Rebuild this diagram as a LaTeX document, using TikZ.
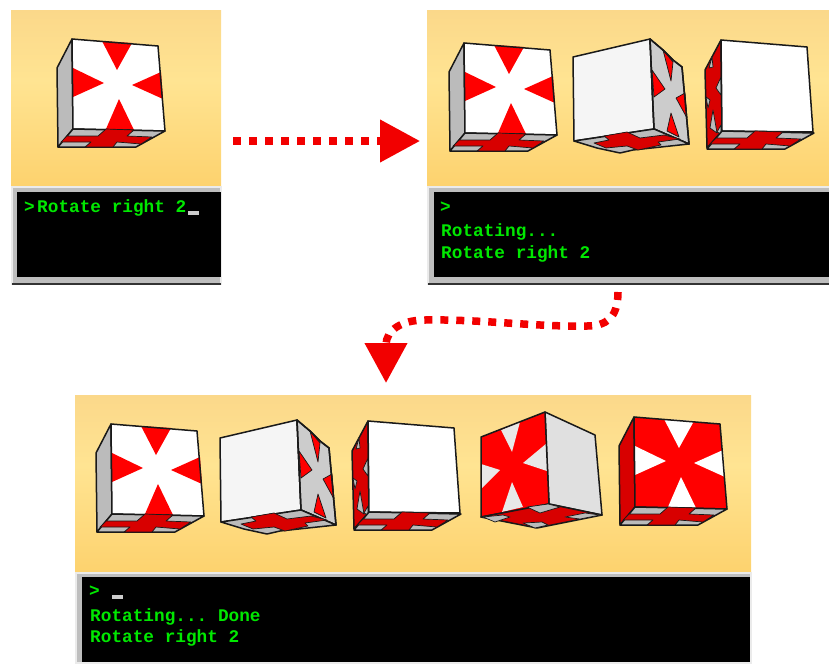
\documentclass[tikz,border=0pt]{standalone}
\usepackage{fontspec}
\setmonofont{Liberation Mono}
\usetikzlibrary{arrows.meta,calc}
\definecolor{scenetop}{HTML}{FBD88A}
\definecolor{scenemid}{HTML}{FFE492}
\definecolor{scenelow}{HTML}{FDD26E}
\definecolor{sidegray}{HTML}{BBBBBB}
\definecolor{palegray}{HTML}{CCCCCC}
\definecolor{darkred}{HTML}{D80000}
\definecolor{framegray}{HTML}{BEBEBE}
\definecolor{consolegreen}{HTML}{00E800}
\pgfdeclareverticalshading{scenefade}{100bp}{color(0bp)=(scenelow); color(25bp)=(scenelow); color(55bp)=(scenemid); color(75bp)=(scenetop); color(100bp)=(scenetop)}
\tikzset{
  scenepanel/.style={rectangle, anchor=north west, inner sep=0pt, outer sep=0pt, shading=scenefade},
  framepanel/.style={rectangle, anchor=north west, inner sep=0pt, outer sep=0pt, fill=framegray, draw=white!92!black, line width=1.5pt},
  screenpanel/.style={rectangle, anchor=north west, inner sep=0pt, outer sep=0pt, fill=black},
  consoletext/.style={anchor=base west, inner sep=0pt, text=consolegreen, font=\fontsize{17.75}{20}\selectfont\ttfamily\bfseries},
  promptmark/.style={anchor=base west, inner sep=0pt, text=consolegreen, font=\fontsize{17.75}{20}\selectfont\ttfamily\bfseries},
  cursormark/.style={fill=white!80!black, draw=none},
  cubeline/.style={draw=black!90, line width=1.5pt, line join=round},
  crossline/.style={draw=black!90, line width=.7pt, line join=round},
  dotarrow/.style={-{Triangle[length=40pt,width=41pt]}, draw=red!95!black, line width=7.5pt, dash pattern=on 8pt off 8pt}
}
% bottom face seen from below, used by the square looking cubes
\newcommand{\cubebase}[1]{
  \begin{scope}[shift={#1}]
    \filldraw[cubeline, fill=sidegray] (73,129) -- (165,131) -- (136,147) -- (58,147) -- cycle;
    \filldraw[crossline, fill=darkred] (106,129) -- (134,130) -- (127,136) -- (152,137) -- (141,144) -- (117,142) -- (113,147) -- (85,147) -- (91,142) -- (61,142) -- (67,136) -- (98,136) -- cycle;
  \end{scope}
}
\newcommand{\frontcube}[4]{
  \begin{scope}[shift={#1}]
    \filldraw[cubeline, fill=#4] (72,39) -- (57,68) -- (58,147) -- (73,129) -- cycle;
    \fill[#2] (72,39) -- (158,46) -- (165,131) -- (73,129) -- cycle;
    \fill[#3] (102,41) -- (132,43) -- (117,70) -- cycle;
    \fill[#3] (73,68) -- (104,83) -- (73,97) -- cycle;
    \fill[#3] (161,72) -- (132,85) -- (163,99) -- cycle;
    \fill[#3] (119,99) -- (106,129) -- (134,130) -- cycle;
    \draw[cubeline] (72,39) -- (158,46) -- (165,131) -- (73,129) -- cycle;
  \end{scope}
  \cubebase{#1}
}
\newcommand{\turnedcube}[1]{
  \begin{scope}[shift={#1}]
    \filldraw[cubeline, fill=white!96!black] (573,57) -- (650,39) -- (654,129) -- (574,141) -- cycle;
    \filldraw[cubeline, fill=palegray] (650,39) -- (663,50) -- (673,60) -- (682,67) -- (689,144) -- (654,129) -- cycle;
    \filldraw[crossline, fill=red] (663,50) -- (673,62) -- (671,81) -- cycle;
    \filldraw[crossline, fill=red] (652,70) -- (665,89) -- (654,97) -- cycle;
    \filldraw[crossline, fill=red] (685,93) -- (676,98) -- (687,118) -- cycle;
    \filldraw[crossline, fill=red] (671,113) -- (667,131) -- (679,137) -- cycle;
    \draw[cubeline] (650,39) -- (663,50) -- (673,60) -- (682,67) -- (689,144) -- (654,129) -- cycle;
    \filldraw[cubeline, fill=sidegray] (574,141) -- (654,129) -- (689,144) -- (633,150) -- (620,153) -- (597,148) -- cycle;
    \filldraw[crossline, fill=darkred] (604,136) -- (627,132) -- (640,138) -- (664,135) -- (680,139) -- (658,142) -- (661,145) -- (638,150) -- (627,146) -- (606,148) -- (594,143) -- (609,140) -- cycle;
  \end{scope}
}
\newcommand{\sidecube}[1]{
  \begin{scope}[shift={#1}]
    \filldraw[cubeline, fill=darkred] (721,40) -- (705,70) -- (707,148) -- (722,131) -- cycle;
    \filldraw[crossline, fill=sidegray] (712,57) -- (709,68) -- (713,67) -- cycle;
    \filldraw[crossline, fill=sidegray] (721,77) -- (716,88) -- (721,95) -- cycle;
    \filldraw[crossline, fill=sidegray] (706,97) -- (710,100) -- (708,108) -- cycle;
    \filldraw[crossline, fill=sidegray] (713,110) -- (710,128) -- (717,133) -- cycle;
    \filldraw[crossline, fill=sidegray] (721,125) -- (717,132) -- (721,134) -- cycle;
    \filldraw[cubeline, fill=white] (721,40) -- (807,47) -- (813,132) -- (722,131) -- cycle;
  \end{scope}
  \cubebase{($#1+(649,2)$)}
}
\newcommand{\leaningcube}[1]{
  \begin{scope}[shift={#1}]
    \filldraw[cubeline, fill=white!88!black] (545,412) -- (595,435) -- (602,515) -- (549,504) -- cycle;
    \fill[red] (481,437) -- (545,412) -- (549,504) -- (481,517) -- cycle;
    \fill[white!91!black] (501,430) -- (520,422) -- (512,452) -- cycle;
    \fill[white!91!black] (547,443) -- (523,463) -- (547,471) -- cycle;
    \fill[white!91!black] (481,464) -- (500,470) -- (481,489) -- cycle;
    \fill[white!91!black] (512,482) -- (502,512) -- (523,507) -- cycle;
    \draw[cubeline] (481,437) -- (545,412) -- (549,504) -- (481,517) -- cycle;
    \filldraw[cubeline, fill=darkred] (481,517) -- (549,504) -- (602,515) -- (537,528) -- cycle;
    \filldraw[crossline, fill=sidegray] (527,507) -- (548,504) -- (560,507) -- (540,513) -- cycle;
    \filldraw[crossline, fill=sidegray] (483,517) -- (503,515) -- (510,517) -- (495,522) -- cycle;
    \filldraw[crossline, fill=sidegray] (565,517) -- (585,513) -- (600,515) -- (580,519) -- cycle;
    \filldraw[crossline, fill=sidegray] (523,523) -- (542,522) -- (548,525) -- (535,528) -- cycle;
  \end{scope}
}

\begin{document}
\begin{tikzpicture}[x=1pt, y=-1pt]
\useasboundingbox (0,0) rectangle (829,664);
% first state
\node[scenepanel, minimum width=210pt, minimum height=176pt] (scene1) at (11,10) {};
\node[framepanel, minimum width=209pt, minimum height=97pt] (console1) at (12,187) {};
\node[screenpanel, minimum width=204pt, minimum height=85pt] (screen1) at (17,192) {};
\draw[black!80, line width=1.5pt] (console1.south west) -- (console1.south east);
\frontcube{(0,0)}{white}{red}{sidegray}
\node[promptmark] (prompt1) at (24,212) {>};
\node[consoletext] (command1) at (37,212) {Rotate right 2};
\fill[cursormark] (188,211) rectangle (199,215);
% second state
\node[scenepanel, minimum width=402pt, minimum height=176pt] (scene2) at (427,10) {};
\node[framepanel, minimum width=402pt, minimum height=97pt] (console2) at (428,187) {};
\node[screenpanel, minimum width=395pt, minimum height=85pt] (screen2) at (434,192) {};
\draw[black!80, line width=1.5pt] (console2.south west) -- (console2.south east);
\frontcube{(392,4)}{white}{red}{sidegray}
\turnedcube{(0,0)}
\sidecube{(0,0)}
\node[promptmark] (prompt2) at (440,212) {>};
\node[consoletext] (status2) at (441,236) {Rotating...};
\node[consoletext] (command2) at (441,258) {Rotate right 2};
% third state
\node[scenepanel, minimum width=676pt, minimum height=177pt] (scene3) at (75,395) {};
\node[framepanel, minimum width=675pt, minimum height=90pt] (console3) at (76,573) {};
\node[screenpanel, minimum width=668pt, minimum height=85pt] (screen3) at (82,577) {};
\frontcube{(39,385)}{white}{red}{sidegray}
\turnedcube{(-353,381)}
\sidecube{(-353,381)}
\leaningcube{(0,0)}
\frontcube{(562,378)}{red}{white}{darkred}
\node[promptmark] (prompt3) at (89,596) {>};
\fill[cursormark] (112,595) rectangle (123,599);
\node[consoletext] (status3) at (90,621) {Rotating... Done};
\node[consoletext] (command3) at (90,642) {Rotate right 2};
% arrows between the states
\draw[dotarrow, shorten <=12pt, shorten >=7pt] ([yshift=-43pt]scene1.east) -- ([yshift=-43pt]scene2.west);
\coordinate (bendright) at (587,326);
\coordinate (bendleft) at (425,320);
\draw[dotarrow, shorten <=8pt, shorten >=12pt] ([xshift=-11pt]console2.south) .. controls (618,318) and (606,326) .. (bendright) .. controls (535,327) and (480,319) .. (bendleft) .. controls (402,320) and (386,330) .. ([xshift=-27pt]scene3.north);
\end{tikzpicture}
\end{document}
